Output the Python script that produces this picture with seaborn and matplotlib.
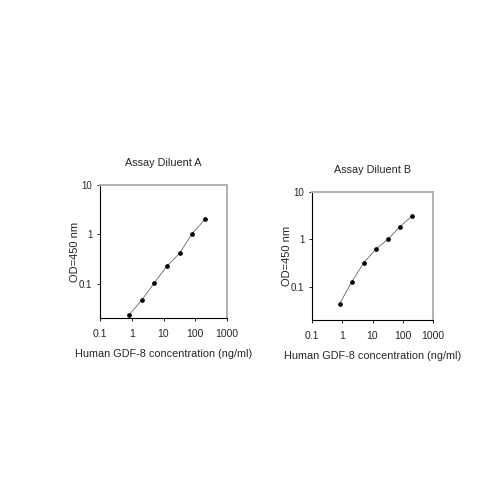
import matplotlib
matplotlib.use("Agg")
from matplotlib import pyplot as plt
from matplotlib.ticker import FixedLocator, FixedFormatter, NullLocator
import pandas as pd
import seaborn as sns

concentration = [0.82, 2.05, 5.12, 12.8, 32, 80, 200]
od_diluent_a = [0.023, 0.046, 0.103, 0.226, 0.41, 1.03, 2.0]
od_diluent_b = [0.044, 0.127, 0.32, 0.62, 1.0, 1.85, 3.1]
titles = ["Assay Diluent A", "Assay Diluent B"]
x_ticks = [0.1, 1, 10, 100, 1000]
x_tick_labels = ["0.1", "1", "10", "100", "1000"]
y_ticks = [0.1, 1, 10]
y_tick_labels = ["0.1", "1", "10"]

sns.set_style("white")
plt.rcParams["font.family"] = ["Liberation Sans", "DejaVu Sans"]

fig = plt.figure(figsize=(5, 5), dpi=100)
boxes = [[0.2, 0.364, 0.254, 0.266], [0.624, 0.36, 0.242, 0.256]]

for box, title, od in zip(boxes, titles, [od_diluent_a, od_diluent_b]):
    ax = fig.add_axes(box)
    df = pd.DataFrame({"conc": concentration, "od": od})
    sns.lineplot(
        data=df, x="conc", y="od", ax=ax,
        color="#666666", linewidth=0.6,
        marker="o", markersize=2.6,
        markerfacecolor="black", markeredgecolor="black",
    )
    ax.set_xscale("log")
    ax.set_yscale("log")
    ax.set_xlim(0.1, 1000)
    ax.set_ylim(0.02, 10)
    ax.xaxis.set_major_locator(FixedLocator(x_ticks))
    ax.xaxis.set_major_formatter(FixedFormatter(x_tick_labels))
    ax.xaxis.set_minor_locator(NullLocator())
    ax.yaxis.set_major_locator(FixedLocator(y_ticks))
    ax.yaxis.set_major_formatter(FixedFormatter(y_tick_labels))
    ax.yaxis.set_minor_locator(NullLocator())
    ax.tick_params(axis="y", length=2.5, width=0.6, color="black",
                   labelsize=7, pad=3, left=True)
    ax.tick_params(axis="x", length=2, width=0.6, color="black",
                   labelsize=7.5, pad=6, bottom=True)
    for side in ["left", "bottom"]:
        ax.spines[side].set_color("black")
        ax.spines[side].set_linewidth(0.8)
    for side in ["top", "right"]:
        ax.spines[side].set_color("#b0b0b0")
        ax.spines[side].set_linewidth(1.4)
    ax.set_title(title, fontsize=7.8, pad=13.5)
    ax.set_xlabel("Human GDF-8 concentration (ng/ml)", fontsize=7.8, labelpad=7)
    ax.set_ylabel("OD=450 nm", fontsize=8, labelpad=-1)

fig.savefig("out.png", dpi=100, facecolor="white")
